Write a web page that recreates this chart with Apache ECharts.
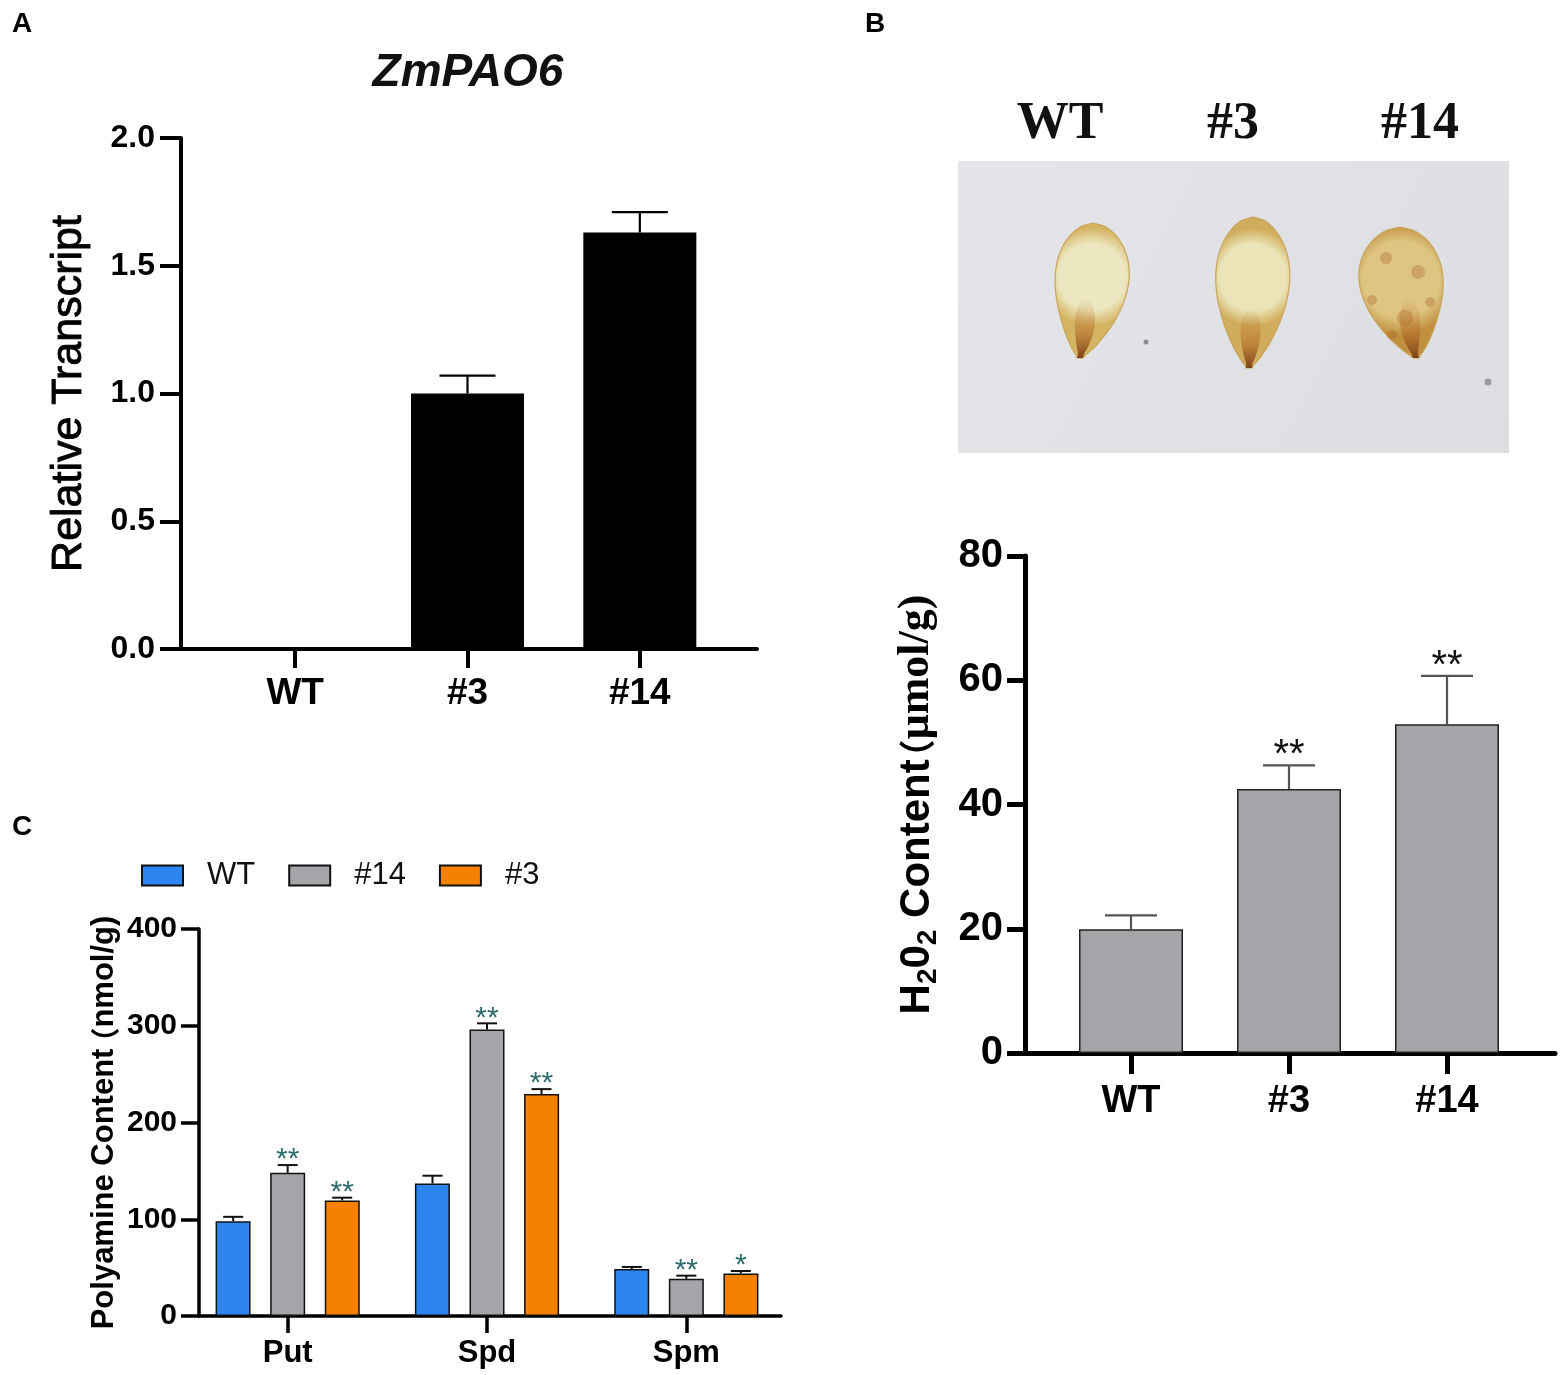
<!DOCTYPE html>
<html><head><meta charset="utf-8">
<script src="https://cdn.jsdelivr.net/npm/echarts@6/dist/echarts.min.js"></script>
<style>html,body{margin:0;padding:0;background:#fff}#c{width:1562px;height:1375px}</style>
</head><body><div id="c"></div><script>
// ---------- data ----------
const panelACategories = ['WT', '#3', '#14'];
const panelAValues = [0, 1.0, 1.63];
const panelAErrors = [0, 0.07, 0.08];

const panelBCategories = ['WT', '#3', '#14'];
const panelBValues = [19.9, 42.5, 52.9];
const panelBErrors = [2.25, 3.8, 7.8];
const panelBStars = ['', '**', '**'];
const photoLabels = ['WT', '#3', '#14'];

const panelCCategories = ['Put', 'Spd', 'Spm'];
const panelCSeriesNames = ['WT', '#14', '#3'];
const panelCWT = [98, 137, 48.5];
const panelC14 = [148, 296, 38.5];
const panelC3 = [119.5, 229.5, 44];
const panelCWTErr = [4.5, 8, 2.2];
const panelC14Err = [8, 6.5, 3.2];
const panelC3Err = [2.8, 5, 2.5];
const panelCWTStars = ['', '', ''];
const panelC14Stars = ['**', '**', '**'];
const panelC3Stars = ['**', '**', '*'];

// ---------- styles ----------
const SANS = '"Liberation Sans", Arial, Helvetica, sans-serif';
const SERIF = '"Liberation Serif", "Times New Roman", serif';
const CJK = '"Noto Sans CJK SC", sans-serif';
const C_BLUE = '#2d85f0', C_GRAY = '#a5a5a9', C_ORANGE = '#f68000';

function errorSeries(xi, yi, values, errors, stars, cfg) {
  return {
    type: 'custom', xAxisIndex: xi, yAxisIndex: yi, z: 5, silent: true,
    encode: { x: 0, y: 1 },
    data: values.map((v, i) => [i, v, errors[i]]),
    renderItem: function (params, api) {
      const i = api.value(0), v = api.value(1), e = api.value(2);
      const p0 = api.coord([i, v]), p1 = api.coord([i, v + e]);
      const x = p0[0] + cfg.offset;
      const ch = [];
      if (e > 0) {
        ch.push({ type: 'line', shape: { x1: x, y1: p0[1], x2: x, y2: p1[1] }, style: { stroke: cfg.color, lineWidth: cfg.width } });
        ch.push({ type: 'line', shape: { x1: x - cfg.cap, y1: p1[1], x2: x + cfg.cap, y2: p1[1] }, style: { stroke: cfg.color, lineWidth: cfg.width } });
      }
      const s = stars ? stars[params.dataIndex] : '';
      if (s) {
        ch.push({ type: 'text', style: { text: s, x: x, y: p1[1] - cfg.starGap, align: 'center', verticalAlign: 'middle', fill: cfg.starColor, font: cfg.starFont } });
      }
      return { type: 'group', children: ch };
    }
  };
}

function lineAxis(gi, w) {
  return { gridIndex: gi, type: 'value', min: 0, max: 1, axisLine: { show: true, onZero: false, lineStyle: { color: '#000', width: w } },
    axisTick: { show: false }, axisLabel: { show: false }, splitLine: { show: false } };
}
function catAxis(gi, cats, tickW, tickL, fs, margin) {
  return { gridIndex: gi, type: 'category', data: cats, axisLine: { show: false },
    axisTick: { show: true, alignWithLabel: true, length: tickL, lineStyle: { color: '#000', width: tickW } },
    axisLabel: { color: '#000', fontSize: fs, fontWeight: 'bold', fontFamily: SANS, margin: margin }, splitLine: { show: false } };
}
function hiddenY(gi, max) { return { gridIndex: gi, type: 'value', min: 0, max: max, show: false }; }

// ---------- photo approximation (decoration, not data) ----------
function leafPoints(cx, top, bottom, hw, tipX, tipW) {
  const h = bottom - top, L = [], R = [];
  const n = 48;
  for (let k = 0; k <= n; k++) {
    const t = k / n;
    const w = Math.max(hw * Math.pow(Math.sin(Math.PI * Math.pow(t, 0.75)), 0.7), t > 0.5 ? tipW : 0);
    const c = cx + (tipX - cx) * Math.pow(t, 3);
    const y = top + h * t;
    L.push([c - w, y]); R.push([c + w, y]);
  }
  return L.concat(R.reverse());
}
function leaf(cx, top, bottom, hw, tipX, inner, outer, spots) {
  const els = [];
  els.push({ type: 'polygon', shape: { points: leafPoints(cx, top, bottom, hw, tipX, 3) },
    style: { fill: { type: 'radial', x: 0.5, y: 0.4, r: 0.65, colorStops: [{ offset: 0, color: inner }, { offset: 0.68, color: inner }, { offset: 1, color: outer }] },
      stroke: '#caa458', lineWidth: 1.2 } });
  els.push({ type: 'polygon', shape: { points: leafPoints(cx + (tipX - cx) * 0.6, bottom - 60, bottom, 10, tipX, 3) },
    style: { fill: { type: 'linear', x: 0, y: 0, x2: 0, y2: 1, colorStops: [{ offset: 0, color: 'rgba(190,120,45,0)' }, { offset: 0.6, color: 'rgba(175,100,35,0.55)' }, { offset: 1, color: 'rgba(120,60,20,0.95)' }] } } });
  (spots || []).forEach(s => els.push({ type: 'circle', shape: { cx: s[0], cy: s[1], r: s[2] }, style: { fill: 'rgba(170,100,40,0.35)' } }));
  return els;
}

const photo = [
  { type: 'rect', shape: { x: 958, y: 161, width: 551, height: 292 },
    style: { fill: { type: 'linear', x: 0, y: 0, x2: 1, y2: 1, colorStops: [{ offset: 0, color: '#e4e5e8' }, { offset: 1, color: '#dddee1' }] } } },
  ...leaf(1093, 223, 358, 37, 1080, '#ece7c0', '#d4b462'),
  ...leaf(1253, 217, 368, 37, 1249, '#ebe4b8', '#d0ad5c'),
  ...leaf(1400, 227, 358, 42, 1416, '#dfc581', '#c0903f', [[1386, 258, 6], [1418, 272, 7], [1372, 300, 5], [1405, 318, 8], [1430, 302, 5], [1392, 335, 5]]),
  { type: 'circle', shape: { cx: 1146, cy: 342, r: 2.5 }, style: { fill: '#8a8c90' } },
  { type: 'circle', shape: { cx: 1488, cy: 382, r: 3.5 }, style: { fill: '#9a9ca0' } }
];
const photoX = [1060, 1233, 1420];
photoLabels.forEach((t, i) => photo.push({ type: 'text', style: { text: t, x: photoX[i], y: 125, align: 'center', verticalAlign: 'middle', font: 'bold 52px ' + SERIF, fill: '#111' } }));

const letters = [['A', 22, 24], ['B', 875, 24], ['C', 22, 827]].map(l => ({ type: 'text', style: { text: l[0], x: l[1], y: l[2], align: 'center', verticalAlign: 'middle', font: 'bold 28px ' + SANS, fill: '#000' } }));

const chart = echarts.init(document.getElementById('c'), null, { renderer: 'canvas' });
chart.setOption({
  backgroundColor: '#fff',
  animation: false,
  grid: [
    { left: 181, right: 805, top: 138, bottom: 726 },
    { left: 209, right: 836, top: 138, bottom: 726 },
    { left: 1025, right: 7, top: 556, bottom: 322 },
    { left: 1052, right: 36, top: 556, bottom: 322 },
    { left: 199, right: 781, top: 929, bottom: 59 },
    { left: 188, right: 776, top: 929, bottom: 59 }
  ],
  xAxis: [
    lineAxis(0, 4),
    catAxis(1, panelACategories, 4, 19, 37, 26),
    lineAxis(2, 5),
    catAxis(3, panelBCategories, 5, 21, 38, 30),
    lineAxis(4, 3.5),
    catAxis(5, panelCCategories, 3.5, 17, 31, 22)
  ],
  yAxis: [
    { gridIndex: 0, type: 'value', min: 0, max: 2, interval: 0.5,
      axisLine: { show: true, lineStyle: { color: '#000', width: 4 } },
      axisTick: { show: true, length: 21, lineStyle: { color: '#000', width: 4 } },
      axisLabel: { color: '#000', fontSize: 32, fontWeight: 'bold', fontFamily: SANS, margin: 26, formatter: v => v.toFixed(1) },
      splitLine: { show: false },
      name: 'Relative Transcript', nameLocation: 'middle', nameRotate: 90, nameGap: 90,
      nameTextStyle: { fontSize: 43, fontFamily: SANS, color: '#000', textBorderColor: '#000', textBorderWidth: 0.9 } },
    hiddenY(1, 2),
    { gridIndex: 2, type: 'value', min: 0, max: 80, interval: 20,
      axisLine: { show: true, lineStyle: { color: '#000', width: 5 } },
      axisTick: { show: true, length: 18, lineStyle: { color: '#000', width: 5 } },
      axisLabel: { color: '#000', fontSize: 40, fontWeight: 'bold', fontFamily: SANS, margin: 22 },
      splitLine: { show: false },
      name: '{a|H}{s|2}{a|0}{s|2}{a| Content}{p|（}{t|μmol/g)}', nameLocation: 'middle', nameRotate: 90, nameGap: 83,
      nameTextStyle: { rich: {
        a: { fontSize: 42, fontWeight: 'bold', fontFamily: SANS, color: '#000', lineHeight: 50 },
        s: { fontSize: 28, fontWeight: 'bold', fontFamily: SANS, color: '#000', lineHeight: 22, verticalAlign: 'bottom' },
        p: { fontSize: 36, fontWeight: 'bold', fontFamily: CJK, color: '#000', lineHeight: 50, padding: [0, 0, 0, -16] },
        t: { fontSize: 44, fontWeight: 'bold', fontFamily: SERIF, color: '#000', lineHeight: 50 } } } },
    hiddenY(3, 80),
    { gridIndex: 4, type: 'value', min: 0, max: 400, interval: 100,
      axisLine: { show: true, lineStyle: { color: '#000', width: 3.5 } },
      axisTick: { show: true, length: 18, lineStyle: { color: '#000', width: 3.5 } },
      axisLabel: { color: '#000', fontSize: 30, fontWeight: 'bold', fontFamily: SANS, margin: 22 },
      splitLine: { show: false },
      name: '{a|Polyamine Content}{p|（}{a|nmol/g)}', nameLocation: 'middle', nameRotate: 90, nameGap: 79,
      nameTextStyle: { rich: {
        a: { fontSize: 31, fontWeight: 'bold', fontFamily: SANS, color: '#000' },
        p: { fontSize: 29, fontWeight: 'bold', fontFamily: CJK, color: '#000', padding: [0, 0, 0, -8] } } } },
    hiddenY(5, 400)
  ],
  legend: {
    data: panelCSeriesNames, left: 141, top: 860, padding: 0, itemWidth: 41, itemHeight: 20, itemGap: 33, icon: 'rect',
    selectedMode: false,
    textStyle: { fontFamily: SANS, fontSize: 31, color: '#111', padding: [0, 0, 0, 19] }
  },
  series: [
    { type: 'bar', name: 'A-bars', xAxisIndex: 1, yAxisIndex: 1, data: panelAValues, barWidth: 113, silent: true,
      itemStyle: { color: '#000' } },
    errorSeries(1, 1, panelAValues, panelAErrors, null, { offset: 0, cap: 28, color: '#000', width: 2.2 }),
    { type: 'bar', name: 'B-bars', xAxisIndex: 3, yAxisIndex: 3, data: panelBValues, barWidth: 104, silent: true,
      itemStyle: { color: C_GRAY, borderColor: '#222', borderWidth: 1.5 } },
    errorSeries(3, 3, panelBValues, panelBErrors, panelBStars, { offset: 0, cap: 26, color: '#555', width: 2.2, starGap: 9, starColor: '#111', starFont: '40px ' + SANS }),
    { type: 'bar', name: 'WT', xAxisIndex: 5, yAxisIndex: 5, data: panelCWT, barWidth: 35, barGap: '56%', silent: true,
      itemStyle: { color: C_BLUE, borderColor: '#111', borderWidth: 1.5 } },
    { type: 'bar', name: '#14', xAxisIndex: 5, yAxisIndex: 5, data: panelC14, barWidth: 35, barGap: '56%', silent: true,
      itemStyle: { color: C_GRAY, borderColor: '#111', borderWidth: 1.5 } },
    { type: 'bar', name: '#3', xAxisIndex: 5, yAxisIndex: 5, data: panelC3, barWidth: 35, barGap: '56%', silent: true,
      itemStyle: { color: C_ORANGE, borderColor: '#111', borderWidth: 1.5 } },
    errorSeries(5, 5, panelCWT, panelCWTErr, panelCWTStars, { offset: -54.5, cap: 10, color: '#111', width: 2, starGap: 5, starColor: '#2f6d6d', starFont: '30px ' + SANS }),
    errorSeries(5, 5, panelC14, panelC14Err, panelC14Stars, { offset: 0, cap: 10, color: '#111', width: 2, starGap: 5, starColor: '#2f6d6d', starFont: '30px ' + SANS }),
    errorSeries(5, 5, panelC3, panelC3Err, panelC3Stars, { offset: 54.5, cap: 10, color: '#111', width: 2, starGap: 5, starColor: '#2f6d6d', starFont: '30px ' + SANS })
  ],
  graphic: [
    ...photo,
    ...letters,
    { type: 'text', style: { text: 'ZmPAO6', x: 468, y: 73, align: 'center', verticalAlign: 'middle', font: 'italic bold 46px ' + SANS, fill: '#111' } }
  ]
});
</script></body></html>
